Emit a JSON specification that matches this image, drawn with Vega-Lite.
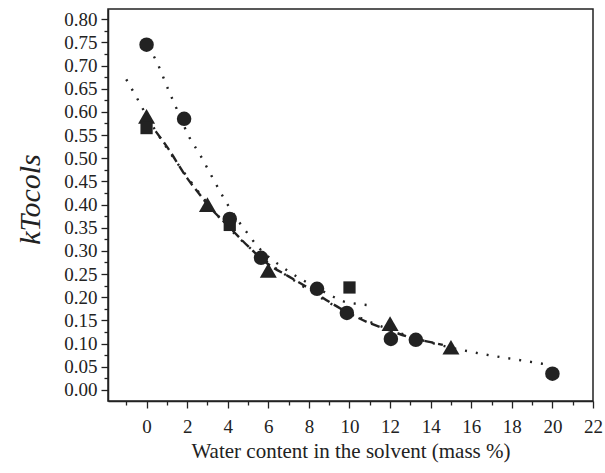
{
  "$schema": "https://vega.github.io/schema/vega-lite/v6.json",
  "width": 485,
  "height": 392,
  "autosize": {"type": "none"},
  "padding": {"left": 108, "top": 9, "right": 12, "bottom": 72},
  "background": "white",
  "config": {
    "view": {"stroke": "#222", "strokeWidth": 1.5},
    "font": "Liberation Serif",
    "axis": {
      "domainColor": "#222", "domainWidth": 1.5, "tickColor": "#222", "tickWidth": 1.3,
      "labelFont": "Liberation Serif", "labelFontSize": 19, "labelColor": "#222",
      "titleFont": "Liberation Serif", "titleFontWeight": "normal", "titleColor": "#222",
      "grid": false
    }
  },
  "datasets": {
    "lines": [
      {"line": "A", "x": 0.1, "y": 0.74},
      {"line": "A", "x": 0.5, "y": 0.708},
      {"line": "A", "x": 1.1, "y": 0.645},
      {"line": "A", "x": 1.6, "y": 0.595},
      {"line": "A", "x": 2.05, "y": 0.55},
      {"line": "A", "x": 2.64, "y": 0.507},
      {"line": "A", "x": 3.2, "y": 0.462},
      {"line": "A", "x": 3.78, "y": 0.416},
      {"line": "A", "x": 4.4, "y": 0.372},
      {"line": "A", "x": 4.82, "y": 0.347},
      {"line": "A", "x": 5.59, "y": 0.304},
      {"line": "A", "x": 6.1, "y": 0.284},
      {"line": "A", "x": 6.66, "y": 0.266},
      {"line": "A", "x": 7.5, "y": 0.242},
      {"line": "A", "x": 8.4, "y": 0.22},
      {"line": "A", "x": 9.2, "y": 0.201},
      {"line": "A", "x": 9.7, "y": 0.191},
      {"line": "A", "x": 10.3, "y": 0.186},
      {"line": "A", "x": 10.9, "y": 0.183},
      {"line": "B", "x": -1.0, "y": 0.67},
      {"line": "B", "x": -0.5, "y": 0.632},
      {"line": "B", "x": 0, "y": 0.592},
      {"line": "B", "x": 1, "y": 0.522},
      {"line": "B", "x": 2, "y": 0.46},
      {"line": "B", "x": 3, "y": 0.403},
      {"line": "B", "x": 4, "y": 0.352},
      {"line": "B", "x": 5, "y": 0.31},
      {"line": "B", "x": 6, "y": 0.274},
      {"line": "B", "x": 7, "y": 0.244},
      {"line": "B", "x": 8, "y": 0.215},
      {"line": "B", "x": 9, "y": 0.188},
      {"line": "B", "x": 10, "y": 0.166},
      {"line": "B", "x": 11, "y": 0.147},
      {"line": "B", "x": 12, "y": 0.13},
      {"line": "B", "x": 13, "y": 0.115},
      {"line": "B", "x": 14, "y": 0.102},
      {"line": "B", "x": 15, "y": 0.091},
      {"line": "B", "x": 16, "y": 0.082},
      {"line": "B", "x": 17, "y": 0.074},
      {"line": "B", "x": 18, "y": 0.067},
      {"line": "B", "x": 19, "y": 0.06},
      {"line": "B", "x": 19.7, "y": 0.055},
      {"line": "C", "x": 0.45, "y": 0.558},
      {"line": "C", "x": 1, "y": 0.525},
      {"line": "C", "x": 2, "y": 0.457},
      {"line": "C", "x": 2.7, "y": 0.417},
      {"line": "C", "x": 3, "y": 0.4},
      {"line": "C", "x": 4, "y": 0.355},
      {"line": "C", "x": 5, "y": 0.31},
      {"line": "C", "x": 6, "y": 0.271},
      {"line": "C", "x": 7, "y": 0.245},
      {"line": "C", "x": 8, "y": 0.219},
      {"line": "C", "x": 9, "y": 0.19},
      {"line": "C", "x": 10, "y": 0.165},
      {"line": "C", "x": 11, "y": 0.144},
      {"line": "C", "x": 12, "y": 0.128},
      {"line": "C", "x": 13, "y": 0.113},
      {"line": "C", "x": 14, "y": 0.103},
      {"line": "C", "x": 14.6, "y": 0.097}
    ],
    "points": [
      {"series": "circle", "x": 0, "y": 0.745},
      {"series": "circle", "x": 1.85, "y": 0.585},
      {"series": "circle", "x": 4.1, "y": 0.369},
      {"series": "circle", "x": 5.64, "y": 0.285},
      {"series": "circle", "x": 8.4, "y": 0.218},
      {"series": "circle", "x": 9.87, "y": 0.166},
      {"series": "circle", "x": 12.04, "y": 0.11},
      {"series": "circle", "x": 13.27, "y": 0.108},
      {"series": "circle", "x": 20, "y": 0.035},
      {"series": "square", "x": 0, "y": 0.565},
      {"series": "square", "x": 4.1, "y": 0.356},
      {"series": "square", "x": 10, "y": 0.221},
      {"series": "triangle", "x": 0, "y": 0.59},
      {"series": "triangle", "x": 3, "y": 0.4},
      {"series": "triangle", "x": 6, "y": 0.258},
      {"series": "triangle", "x": 12, "y": 0.143},
      {"series": "triangle", "x": 15, "y": 0.092}
    ]
  },
  "encoding": {
    "x": {
      "field": "x", "type": "quantitative",
      "scale": {"domain": [-1.9, 22], "nice": false, "zero": false},
      "axis": {
        "title": "Water content in the solvent (mass %)",
        "titleFontSize": 21, "titleBaseline": "alphabetic", "titleY": 56,
        "values": [-1,0,1,2,3,4,5,6,7,8,9,10,11,12,13,14,15,16,17,18,19,20,21,22],
        "labelExpr": "datum.value % 2 === 0 ? datum.label : ''",
        "tickSize": {"condition": {"test": "datum.value % 2 === 0", "value": 7}, "value": 4},
        "labelPadding": 9, "labelFlush": false, "labelOverlap": false
      }
    },
    "y": {
      "field": "y", "type": "quantitative",
      "scale": {"domain": [-0.024, 0.822], "nice": false, "zero": false},
      "axis": {
        "title": "kTocols",
        "titleFontSize": 30, "titleFontStyle": "italic",
        "titleX": -63, "titleY": 190, "titleBaseline": "bottom", "titleAngle": -90,
        "values": [0,0.025,0.05,0.075,0.1,0.125,0.15,0.175,0.2,0.225,0.25,0.275,0.3,0.325,0.35,0.375,0.4,0.425,0.45,0.475,0.5,0.525,0.55,0.575,0.6,0.625,0.65,0.675,0.7,0.725,0.75,0.775,0.8],
        "labelExpr": "round(datum.value*1000) % 50 === 0 ? format(datum.value, '.2f') : ''",
        "tickSize": {"condition": {"test": "round(datum.value*1000) % 50 === 0", "value": 7}, "value": 4},
        "labelPadding": 4, "labelOverlap": false, "labelFlush": false
      }
    }
  },
  "layer": [
    {
      "data": {"name": "lines"},
      "mark": {"type": "line", "interpolate": "monotone", "color": "#222", "strokeWidth": 2.4},
      "encoding": {
        "detail": {"field": "line"},
        "strokeDash": {
          "field": "line", "type": "nominal",
          "scale": {"domain": ["A", "B", "C"], "range": [[2, 9], [2, 9], [9, 5]]},
          "legend": null
        }
      }
    },
    {
      "data": {"name": "points"},
      "mark": {"type": "point", "filled": true, "opacity": 1, "color": "#222"},
      "encoding": {
        "shape": {
          "field": "series", "type": "nominal",
          "scale": {"domain": ["circle", "square", "triangle"], "range": ["circle", "square", "triangle-up"]},
          "legend": null
        },
        "size": {
          "field": "series", "type": "nominal",
          "scale": {"type": "ordinal", "domain": ["circle", "square", "triangle"], "range": [210, 150, 290]},
          "legend": null
        },
        "order": {"field": "series", "sort": "descending"}
      }
    }
  ]
}
